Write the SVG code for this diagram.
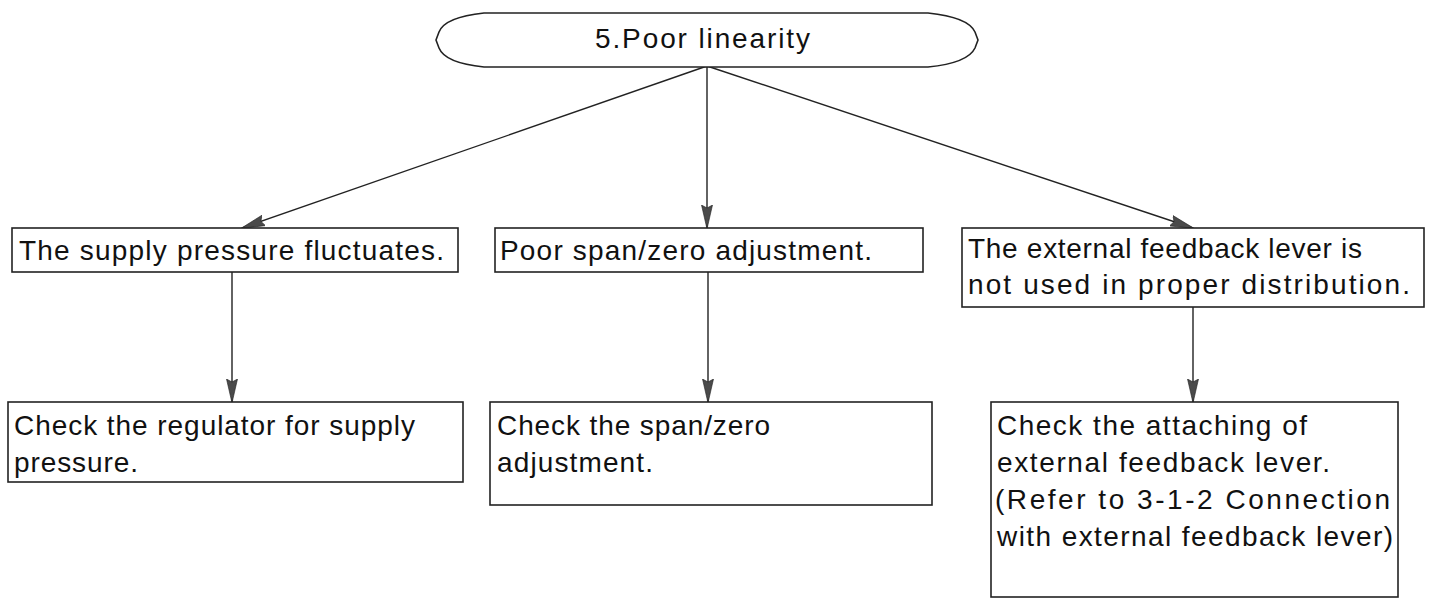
<svg xmlns="http://www.w3.org/2000/svg" width="1431" height="599" viewBox="0 0 1431 599">
<defs>
<style>
.box{fill:#fff;stroke:#222;stroke-width:1.6}
.t{font-family:"Liberation Sans",Arial,sans-serif;font-size:28px;fill:#111}
.c{stroke:#222;stroke-width:1.4;fill:none}
</style>
<marker id="ah" markerWidth="24" markerHeight="12" refX="23" refY="6" orient="auto" markerUnits="userSpaceOnUse">
<path d="M0,0.5 L24,6 L0,11.5 L3,6 Z" fill="#4a4a4a" stroke="#222" stroke-width="0.6"/>
</marker>
</defs>
<rect width="1431" height="599" fill="#fff"/>
<g id="connectors">
<line class="c" x1="707" y1="66" x2="242" y2="228" marker-end="url(#ah)"/>
<line class="c" x1="707" y1="66" x2="707" y2="228" marker-end="url(#ah)"/>
<line class="c" x1="707" y1="66" x2="1193" y2="228" marker-end="url(#ah)"/>
<line class="c" x1="232" y1="272" x2="232" y2="402" marker-end="url(#ah)"/>
<line class="c" x1="708" y1="272" x2="708" y2="402" marker-end="url(#ah)"/>
<line class="c" x1="1193" y1="307" x2="1193" y2="402" marker-end="url(#ah)"/>
</g>
<g id="start">
<path class="box" d="M484,13 L928,13 Q968,17 975,32 L978,40 L975,48 Q968,63 928,67 L484,67 Q445,63 439,48 L436,40 L439,32 Q445,17 484,13 Z"/>
<text class="t" x="595" y="48" font-size="26" textLength="215" lengthAdjust="spacing">5.Poor linearity</text>
</g>
<g id="cause1">
<rect class="box" x="12" y="228" width="446" height="44"/>
<text class="t" x="19" y="260" textLength="425" lengthAdjust="spacing">The supply pressure fluctuates.</text>
</g>
<g id="cause2">
<rect class="box" x="495" y="228" width="428" height="44"/>
<text class="t" x="500" y="260" textLength="372" lengthAdjust="spacing">Poor span/zero adjustment.</text>
</g>
<g id="cause3">
<rect class="box" x="962" y="228" width="462" height="79"/>
<text class="t" x="968" y="258" textLength="394" lengthAdjust="spacing">The external feedback lever is</text>
<text class="t" x="968" y="294" textLength="442" lengthAdjust="spacing">not used in proper distribution.</text>
</g>
<g id="action1">
<rect class="box" x="8" y="402" width="455" height="80"/>
<text class="t" x="14" y="435" textLength="401" lengthAdjust="spacing">Check the regulator for supply</text>
<text class="t" x="14" y="472" textLength="124" lengthAdjust="spacing">pressure.</text>
</g>
<g id="action2">
<rect class="box" x="490" y="402" width="442" height="103"/>
<text class="t" x="497" y="435" textLength="273" lengthAdjust="spacing">Check the span/zero</text>
<text class="t" x="497" y="472" textLength="156" lengthAdjust="spacing">adjustment.</text>
</g>
<g id="action3">
<rect class="box" x="991" y="402" width="407" height="195"/>
<text class="t" x="997" y="435" textLength="310" lengthAdjust="spacing">Check the attaching of</text>
<text class="t" x="997" y="472" textLength="333" lengthAdjust="spacing">external feedback lever.</text>
<text class="t" x="995" y="509" textLength="395" lengthAdjust="spacing">(Refer to 3-1-2 Connection</text>
<text class="t" x="997" y="546" textLength="396" lengthAdjust="spacing">with external feedback lever)</text>
</g>
</svg>
